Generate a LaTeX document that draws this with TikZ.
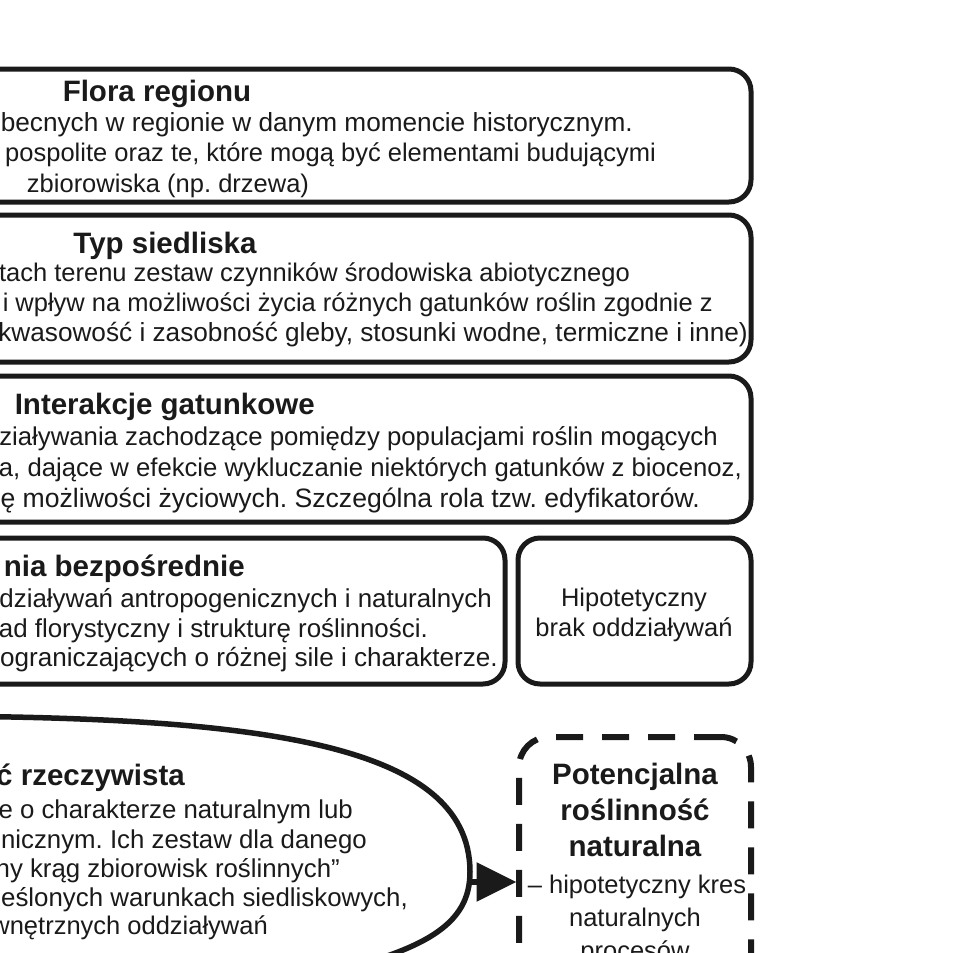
\documentclass[tikz,border=0pt]{standalone}
\usepackage{fontspec}
\setmainfont{Liberation Sans}
\usetikzlibrary{arrows.meta}
\definecolor{ink}{HTML}{1A1A1A}
\frenchspacing
\begin{document}
\begin{tikzpicture}[x=1pt,y=-1pt,
  boxs/.style={draw=ink, line width=5pt, rounded corners=22pt, inner sep=0pt, outer sep=0pt},
  dboxs/.style={draw=ink, line width=6pt, rounded corners=30pt, dash pattern=on 27pt off 19pt, inner sep=0pt, outer sep=0pt},
  body/.style={text=ink, font=\fontsize{#1}{30}\selectfont, inner sep=0pt, anchor=base east},
  body/.default=25.5,
  bodyc/.style={body, anchor=base},
  ttl/.style={text=ink, font=\fontsize{29.5}{34}\selectfont\bfseries, inner sep=0pt, anchor=base},
  ttle/.style={ttl, anchor=base east}]
\useasboundingbox (0,0) rectangle (978,953);
\clip (0,0) rectangle (978,953);
\fill[white] (0,0) rectangle (978,953);
% boxes
\node[boxs, minimum width=1051pt, minimum height=133pt] (b1) at (225.5,135.5) {};
\node[boxs, minimum width=1051pt, minimum height=147pt] (b2) at (225.5,288.5) {};
\node[boxs, minimum width=1051pt, minimum height=146pt] (b3) at (225.5,449) {};
\node[boxs, minimum width=805pt, minimum height=146pt] (b4) at (102.5,611) {};
\node[boxs, minimum width=233pt, minimum height=146pt] (b5) at (634.5,611) {};
\node[dboxs, minimum width=232pt, minimum height=400pt] (db) at (635,937) {};
% box 1
\node[ttl] (t1) at (157,101) {Flora regionu};
\node[body=26.2] (t1a) at (633,131) {becnych w regionie w danym momencie historycznym.};
\node[body] (t1b) at (656,161) {pospolite oraz te, które mogą być elementami budującymi};
\node[bodyc] (t1c) at (168,192) {zbiorowiska (np. drzewa)};
% box 2
\node[ttl] (t2) at (165,253) {Typ siedliska};
\node[body] (t2a) at (630,281) {tach terenu zestaw czynników środowiska abiotycznego};
\node[body] (t2b) at (713,311) {i wpływ na możliwości życia różnych gatunków roślin zgodnie z};
\node[body=26.2] (t2c) at (748,341) {kwasowość i zasobność gleby, stosunki wodne, termiczne i inne)};
% box 3
\node[ttle] (t3) at (315,414) {Interakcje gatunkowe};
\node[body=25.75] (t3a) at (718,445) {ziaływania zachodzące pomiędzy populacjami roślin mogących};
\node[body=25.7] (t3b) at (742,476) {a, dające w efekcie wykluczanie niektórych gatunków z biocenoz,};
\node[body=26.6] (t3c) at (700,507) {ę możliwości życiowych. Szczególna rola tzw. edyfikatorów.};
% box 4
\node[ttle] (t4) at (245,576) {nia bezpośrednie};
\node[body=25.9] (t4a) at (492,607) {działywań antropogenicznych i naturalnych};
\node[body=25.9] (t4b) at (428,637) {ad florystyczny i strukturę roślinności.};
\node[body=26.1] (t4c) at (498,666) {ograniczających o różnej sile i charakterze.};
% box 5
\node[bodyc] (t5a) at (634,606) {Hipotetyczny};
\node[bodyc] (t5b) at (634,636) {brak oddziaływań};
% ellipse
\draw[draw=ink, line width=5.5pt] (-300,716) -- (-100,716) .. controls (250,716) and (470,740) .. (470,872) .. controls (470,925) and (425,950) .. (320,975);
\coordinate (ellE) at (468,882);
\node[ttle] (t6) at (185,785) {ć rzeczywista};
\node[body=25.8] (t6a) at (353,818) {e o charakterze naturalnym lub};
\node[body=25.8] (t6b) at (367,848) {nicznym. Ich zestaw dla danego};
\node[body=25.8] (t6c) at (340,877) {ny krąg zbiorowisk roślinnych”};
\node[body=25.85] (t6d) at (408,906) {eślonych warunkach siedliskowych,};
\node[body] (t6e) at (268,934) {wnętrznych oddziaływań};
% arrow
\draw[draw=ink, line width=6pt, -{Triangle[length=40pt,width=38pt]}] (ellE) -- ([xshift=-2.5pt]ellE -| db.west);
% dashed box text
\node[ttl] (t7a) at (635,784) {Potencjalna};
\node[ttl] (t7b) at (635,820) {roślinność};
\node[ttl] (t7c) at (635,856) {naturalna};
\node[bodyc] (t7d) at (637,893) {– hipotetyczny kres};
\node[bodyc] (t7e) at (635,926) {naturalnych};
\node[bodyc] (t7f) at (635,959) {procesów};
\end{tikzpicture}
\end{document}
